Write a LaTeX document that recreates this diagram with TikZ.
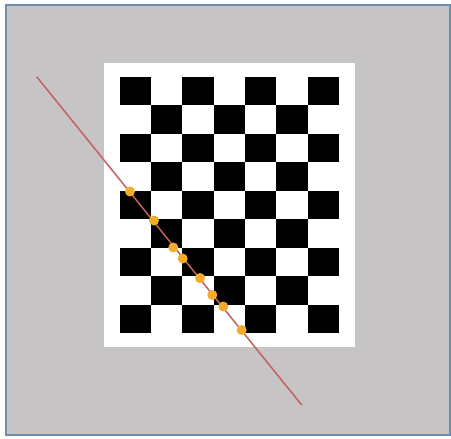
\documentclass[tikz,border=0pt]{standalone}
\usepackage{tikz}
\definecolor{bggray}{RGB}{198,196,197}
\definecolor{frameblue}{RGB}{112,142,172}
\definecolor{linered}{RGB}{200,95,95}
\definecolor{dotorange}{RGB}{242,172,40}
\tikzset{
  cell/.style={fill=black},
  dot/.style={circle,fill=dotorange,inner sep=0pt,minimum size=10pt}
}
\begin{document}
\begin{tikzpicture}[x=1pt,y=-1pt]
\useasboundingbox (0,0) rectangle (451,439);
% outer frame
\filldraw[fill=bggray,draw=frameblue,line width=2pt] (6,5) rectangle (449.5,435);
% white board
\fill[white] (104.3,62.7) rectangle (355,346.7);
% checkers
\foreach \j in {0,...,8}{
  \foreach \i in {0,...,6}{
    \pgfmathtruncatemacro{\p}{mod(\i+\j,2)}
    \ifnum\p=0
      \fill[cell] ({119.5+\i*31.36},{76.7+\j*28.51}) rectangle ++(31.36,28.51);
    \fi
  }
}
% red line
\coordinate (ls) at (36.7,76.7);
\coordinate (le) at (301.7,405);
\draw[linered,line width=1.5pt] (ls) -- (le);
% dots
\node[dot] (d1) at (130,191.5) {};
\node[dot] (d2) at (154,220.5) {};
\node[dot] (d3) at (173.3,247.5) {};
\node[dot] (d4) at (182.7,258.5) {};
\node[dot] (d5) at (200,278) {};
\node[dot] (d6) at (212.3,295) {};
\node[dot] (d7) at (223.3,306.5) {};
\node[dot] (d8) at (241.7,330) {};
\end{tikzpicture}
\end{document}
